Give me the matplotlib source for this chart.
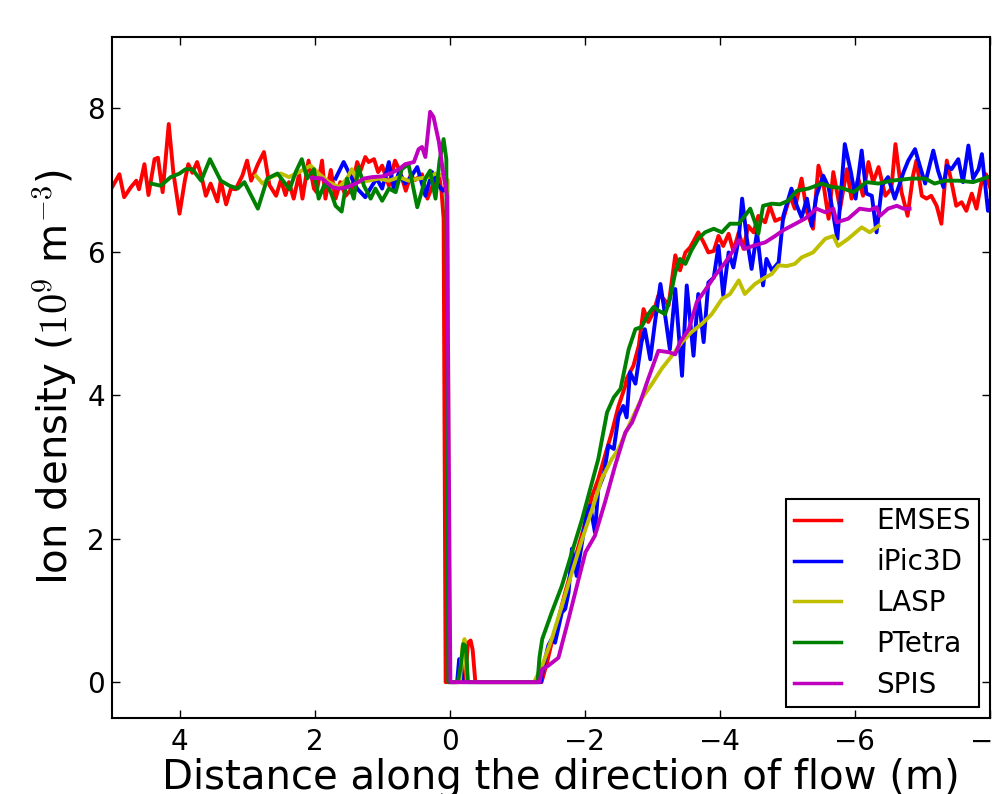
import matplotlib
matplotlib.use("Agg")
import matplotlib.pyplot as plt

plt.rcParams['font.family'] = ['DejaVu Sans']
plt.rcParams['mathtext.fontset'] = 'cm'

# ---------------- data ----------------
emses_x = [5.01, 4.89, 4.82, 4.72, 4.64, 4.60, 4.52, 4.46, 4.37, 4.32, 4.25, 4.16, 4.09, 4.00,
           3.92, 3.87, 3.81, 3.74, 3.68, 3.61, 3.54, 3.44, 3.39, 3.31, 3.24, 3.17, 3.07, 3.00,
           2.94, 2.84, 2.75, 2.67, 2.57, 2.50, 2.43, 2.38, 2.31, 2.23, 2.18, 2.09, 2.01, 1.97,
           1.89, 1.84, 1.76, 1.69, 1.62, 1.54, 1.45, 1.37, 1.32, 1.25, 1.20, 1.12, 1.06, 1.00,
           0.90, 0.81, 0.74, 0.65, 0.58, 0.51, 0.41, 0.33, 0.24, 0.16, 0.12, 0.09, 0.06,
           -0.23, -0.27, -0.31, -0.34, -0.38, -1.36, -1.44, -1.51, -1.61, -1.71, -1.81, -1.91,
           -2.01, -2.11, -2.20, -2.30, -2.40, -2.50, -2.60, -2.62, -2.72, -2.80, -2.87, -2.94,
           -3.02, -3.09, -3.17, -3.24, -3.34, -3.41, -3.49, -3.56, -3.63, -3.68, -3.76, -3.83,
           -3.91, -3.98, -4.05, -4.13, -4.20, -4.28, -4.35, -4.42, -4.50, -4.57, -4.67, -4.74,
           -4.82, -4.89, -4.94, -5.04, -5.11, -5.21, -5.29, -5.38, -5.46, -5.53, -5.61, -5.68,
           -5.78, -5.88, -5.95, -6.05, -6.12, -6.20, -6.27, -6.35, -6.45, -6.54, -6.60, -6.69,
           -6.78, -6.86, -6.91, -6.99, -7.06, -7.13, -7.21, -7.28, -7.36, -7.43, -7.50, -7.58,
           -7.65, -7.73, -7.80, -7.87, -7.94, -8.00]
emses_y = [6.88, 7.08, 6.76, 6.90, 6.99, 6.87, 7.22, 6.79, 7.29, 7.31, 6.83, 7.78, 7.09, 6.53,
           7.00, 7.22, 7.10, 7.25, 7.07, 6.78, 6.95, 6.70, 6.99, 6.66, 6.88, 6.87, 7.06, 7.27,
           6.99, 7.22, 7.39, 6.93, 6.78, 7.00, 6.79, 6.97, 6.74, 7.08, 6.74, 7.27, 6.88, 6.83,
           7.27, 6.74, 7.14, 6.74, 6.97, 6.78, 6.88, 7.25, 7.13, 7.32, 7.25, 7.29, 7.11, 7.20,
           6.92, 7.27, 7.13, 6.85, 7.06, 7.00, 7.08, 6.74, 6.95, 7.08, 6.83, 6.46, 0.00,
           0.00, 0.55, 0.58, 0.45, 0.00, 0.00, 0.27, 0.55, 0.88, 1.25, 1.58, 1.90,
           2.23, 2.60, 2.83, 3.16, 3.48, 3.85, 4.13, 4.23, 4.41, 4.69, 5.20, 5.02,
           5.16, 5.39, 5.34, 5.25, 5.95, 5.74, 5.99, 6.06, 6.18, 6.27, 6.13, 5.99,
           6.01, 6.22, 6.08, 6.25, 6.01, 6.27, 6.04, 6.36, 6.27, 6.50, 6.41, 6.64,
           6.43, 6.46, 6.46, 6.78, 6.60, 7.02, 6.55, 6.32, 7.20, 6.97, 6.46, 7.11,
           6.60, 7.15, 6.74, 7.02, 6.78, 7.25, 6.97, 7.18, 6.78, 6.88, 7.50, 6.83,
           6.50, 7.06, 7.27, 6.78, 6.74, 6.78, 6.64, 6.39, 7.27, 6.97, 6.64, 6.69,
           6.57, 6.81, 6.60, 6.95, 7.08, 6.90]

ipic_x = [1.69, 1.57, 1.47, 1.37, 1.25, 1.15, 1.08, 1.00, 0.90, 0.83, 0.75, 0.66, 0.57, 0.48,
          0.36, 0.26, 0.19, 0.10, 0.04, 0.01, -0.11, -0.14, -0.17, -0.19, -1.35, -1.39, -1.46,
          -1.51, -1.56, -1.66, -1.71, -1.76, -1.81, -1.88, -1.96, -2.03, -2.08, -2.15, -2.20,
          -2.28, -2.35, -2.43, -2.50, -2.57, -2.62, -2.67, -2.75, -2.84, -2.89, -2.97, -3.04,
          -3.12, -3.19, -3.26, -3.34, -3.44, -3.51, -3.61, -3.68, -3.76, -3.83, -3.91, -3.98,
          -4.05, -4.13, -4.20, -4.28, -4.33, -4.40, -4.47, -4.55, -4.64, -4.69, -4.77, -4.87,
          -4.94, -5.06, -5.14, -5.21, -5.29, -5.36, -5.43, -5.53, -5.61, -5.74, -5.85, -5.94,
          -6.01, -6.10, -6.17, -6.25, -6.32, -6.40, -6.49, -6.59, -6.72, -6.79, -6.89, -6.96,
          -7.04, -7.16, -7.23, -7.31, -7.36, -7.43, -7.53, -7.60, -7.68, -7.75, -7.83, -7.88,
          -7.97, -8.00]
ipic_y = [7.02, 7.25, 7.06, 6.88, 6.76, 6.92, 7.02, 6.88, 7.25, 6.88, 7.11, 6.95, 7.05, 7.18,
          6.78, 7.11, 6.95, 6.85, 6.92, 0.00, 0.00, 0.32, 0.30, 0.00, 0.00, 0.23, 0.51,
          0.60, 0.55, 0.97, 1.02, 1.25, 1.86, 1.48, 1.95, 2.37, 2.46, 2.09, 2.69,
          2.88, 3.30, 3.25, 3.71, 3.85, 3.69, 4.32, 4.16, 4.74, 4.92, 4.50, 5.02,
          5.55, 5.11, 4.64, 5.48, 4.27, 5.53, 4.55, 5.41, 4.74, 5.57, 5.64, 6.08,
          5.39, 5.99, 5.78, 6.18, 6.74, 6.18, 5.76, 6.27, 5.53, 5.90, 5.74, 5.85,
          6.50, 6.88, 6.64, 6.48, 6.74, 6.36, 6.78, 7.06, 6.90, 6.18, 7.50, 7.11,
          6.74, 7.41, 6.81, 6.78, 6.27, 6.92, 7.04, 6.74, 7.11, 7.27, 7.43, 7.20,
          6.95, 7.41, 7.13, 6.90, 7.20, 7.15, 7.29, 6.97, 7.48, 7.02, 7.15, 7.36,
          6.57, 6.70]

lasp_x = [2.87, 2.77, 2.65, 2.50, 2.38, 2.23, 2.06, 1.94, 1.79, 1.64, 1.52, 1.45, 1.35, 1.20,
          1.05, 0.90, 0.75, 0.61, 0.46, 0.31, 0.21, 0.11, 0.03, 0.01, -0.15, -0.19, -0.22,
          -0.26, -1.25, -1.27, -1.37, -1.51, -1.66, -1.81, -1.96, -2.11, -2.25, -2.40, -2.50,
          -2.65, -2.72, -2.84, -2.99, -3.14, -3.29, -3.44, -3.58, -3.73, -3.88, -4.03, -4.15,
          -4.28, -4.37, -4.52, -4.67, -4.77, -4.87, -4.99, -5.11, -5.21, -5.38, -5.56, -5.68,
          -5.75, -5.90, -6.10, -6.22, -6.35]
lasp_y = [7.06, 6.95, 7.04, 7.09, 7.04, 7.11, 7.20, 7.09, 6.97, 6.90, 7.02, 7.15, 6.97, 6.99,
          7.02, 6.99, 7.04, 6.99, 7.02, 7.04, 7.09, 7.06, 7.00, 0.00, 0.00, 0.50, 0.60,
          0.00, 0.00, 0.04, 0.23, 0.60, 1.06, 1.53, 1.99, 2.41, 2.83, 3.11, 3.25,
          3.57, 3.71, 3.95, 4.15, 4.37, 4.55, 4.74, 4.88, 4.99, 5.13, 5.34, 5.41,
          5.60, 5.41, 5.55, 5.64, 5.69, 5.81, 5.80, 5.83, 5.92, 5.99, 6.18, 6.22,
          6.08, 6.18, 6.34, 6.27, 6.36]

ptetra_x = [4.42, 4.28, 4.13, 4.00, 3.91, 3.81, 3.68, 3.55, 3.39, 3.26, 3.14, 3.04, 2.84, 2.70,
            2.55, 2.37, 2.28, 2.19, 2.11, 2.01, 1.94, 1.84, 1.76, 1.69, 1.60, 1.52, 1.42, 1.35,
            1.27, 1.17, 1.10, 1.00, 0.90, 0.80, 0.71, 0.61, 0.48, 0.36, 0.29, 0.21, 0.15, 0.09,
            0.05, 0.02, -0.12, -0.16, -0.20, -0.24, -0.27, -1.30, -1.33, -1.37, -1.51, -1.66,
            -1.81, -1.96, -2.08, -2.20, -2.33, -2.43, -2.53, -2.65, -2.75, -2.84, -2.94, -3.02,
            -3.09, -3.19, -3.26, -3.34, -3.41, -3.49, -3.58, -3.68, -3.78, -3.91, -4.03, -4.15,
            -4.28, -4.37, -4.45, -4.52, -4.57, -4.64, -4.77, -4.89, -5.01, -5.14, -5.31, -5.51,
            -5.66, -5.80, -5.98, -6.17, -6.35, -6.54, -6.84, -7.04, -7.18, -7.33, -7.53, -7.75,
            -7.97]
ptetra_y = [6.95, 6.92, 7.04, 7.09, 7.15, 7.15, 6.99, 7.29, 6.99, 6.92, 6.88, 6.97, 6.60, 7.02,
            7.09, 6.87, 7.11, 7.29, 7.02, 7.15, 6.74, 6.97, 6.83, 6.64, 6.56, 7.02, 6.74, 7.18,
            6.92, 6.74, 6.88, 6.71, 6.88, 6.83, 7.15, 7.22, 6.62, 7.02, 7.13, 6.74, 7.27, 7.57,
            7.29, 0.00, 0.00, 0.20, 0.53, 0.50, 0.00, 0.00, 0.35, 0.60, 0.97, 1.34,
            1.81, 2.27, 2.69, 3.11, 3.76, 3.97, 4.09, 4.64, 4.92, 4.95, 5.13, 5.23,
            5.18, 5.13, 5.34, 5.71, 5.90, 5.83, 6.02, 6.18, 6.27, 6.32, 6.27, 6.39,
            6.39, 6.50, 6.60, 6.41, 6.25, 6.64, 6.67, 6.66, 6.71, 6.85, 6.88, 6.95,
            6.90, 6.89, 6.83, 6.97, 6.95, 6.99, 7.02, 7.02, 6.95, 6.99, 6.99, 6.97,
            7.04]

spis_x = [2.04, 1.89, 1.74, 1.64, 1.52, 1.39, 1.27, 1.15, 1.00, 0.88, 0.75, 0.66, 0.53, 0.46,
          0.41, 0.36, 0.29, 0.24, 0.16, 0.09, 0.04, -0.01, -1.33, -1.37, -1.46, -1.61, -1.76,
          -1.91, -2.01, -2.15, -2.30, -2.45, -2.60, -2.70, -2.82, -2.94, -3.09, -3.24, -3.34,
          -3.41, -3.54, -3.66, -3.78, -3.93, -4.08, -4.18, -4.28, -4.37, -4.52, -4.67, -4.82,
          -4.94, -5.06, -5.26, -5.43, -5.56, -5.68, -5.73, -5.90, -6.07, -6.22, -6.32, -6.37,
          -6.49, -6.62, -6.72, -6.81]
spis_y = [7.03, 7.02, 6.90, 6.88, 6.90, 6.95, 7.02, 7.04, 7.05, 7.09, 7.15, 7.22, 7.25, 7.43,
          7.46, 7.32, 7.95, 7.88, 7.53, 7.06, 6.78, 0.00, 0.00, 0.18, 0.23, 0.34, 0.88,
          1.44, 1.81, 2.04, 2.51, 3.02, 3.48, 3.62, 3.90, 4.23, 4.62, 4.60, 4.57,
          4.74, 4.92, 5.30, 5.46, 5.67, 5.85, 5.99, 6.16, 6.04, 6.09, 6.13, 6.22,
          6.30, 6.36, 6.46, 6.60, 6.55, 6.60, 6.41, 6.46, 6.60, 6.58, 6.62, 6.50,
          6.60, 6.64, 6.60, 6.60]

labels = ['EMSES', 'iPic3D', 'LASP', 'PTetra', 'SPIS']
colors = ['#ff0000', '#0000ff', '#bfbf00', '#008000', '#bf00bf']
x_ticks = [4, 2, 0, -2, -4, -6, -8]
y_ticks = [0, 2, 4, 6, 8]

# ---------------- figure ----------------
fig = plt.figure(figsize=(9.94, 7.94), dpi=100)
ax = fig.add_axes([112 / 994, 76 / 794, 878 / 994, 681.5 / 794])

series = [(emses_x, emses_y), (ipic_x, ipic_y), (lasp_x, lasp_y),
          (ptetra_x, ptetra_y), (spis_x, spis_y)]
for (xs, ys), lab, col in zip(series, labels, colors):
    ax.plot(xs, ys, color=col, lw=2.8, label=lab)

ax.set_xlim(5, -8)
ax.set_ylim(-0.5, 9)
ax.set_xticks(x_ticks)
ax.set_yticks(y_ticks)
ax.tick_params(direction='in', length=6, width=1, labelsize=20, pad=7,
               top=True, right=True)
ax.tick_params(axis='y', pad=5)
for sp in ax.spines.values():
    sp.set_linewidth(1.5)

ax.set_xlabel('Distance along the direction of flow (m)', fontsize=29, labelpad=2)
ax.xaxis.label.set_x(0.5 + 10 / 878)
ax.set_ylabel(r'Ion density ($10^9$ m$^{-3}$)', fontsize=29, labelpad=6)

leg = ax.legend(loc='lower right', fontsize=20, fancybox=False, framealpha=1,
                edgecolor='black', handlelength=1.7, handletextpad=1.25,
                labelspacing=0.46, borderpad=0.3, borderaxespad=0.4)
leg.get_frame().set_linewidth(1.5)
for line in leg.get_lines():
    line.set_linewidth(2.5)

fig.savefig('out.png', dpi=100)
